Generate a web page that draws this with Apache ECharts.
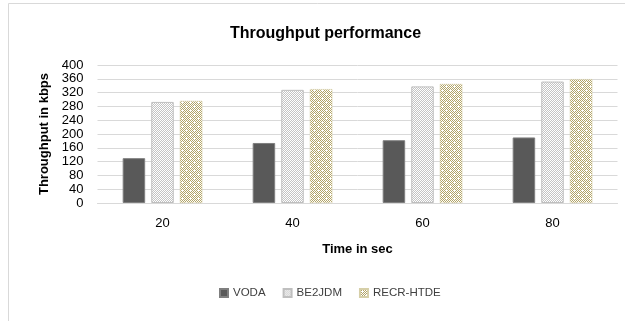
<!DOCTYPE html>
<html><head><meta charset="utf-8">
<script src="https://cdn.jsdelivr.net/npm/echarts@6/dist/echarts.min.js"></script>
<style>html,body{margin:0;padding:0;background:#fff}#c{width:625px;height:321px}</style>
</head><body><div id="c"></div>
<script>
var categories = ['20', '40', '60', '80'];
var seriesNames = ['VODA', 'BE2JDM', 'RECR-HTDE'];
var voda = [130, 174, 182, 190];
var be2jdm = [293, 328, 338, 352];
var recr = [296, 330, 345, 359];
var yTicks = [0, 40, 80, 120, 160, 200, 240, 280, 320, 360, 400];

function makePattern(bg, fg, size, cells) {
  var c = document.createElement('canvas');
  c.width = size; c.height = size;
  var g = c.getContext('2d');
  g.fillStyle = bg; g.fillRect(0, 0, size, size);
  g.fillStyle = fg;
  cells.forEach(function (p) { g.fillRect(p[0], p[1], 1, 1); });
  return c;
}
var grayPat = makePattern('#c4c4c4', '#ffffff', 2, [[0, 0], [1, 1]]);
var olivePat = (function () {
  var c = document.createElement('canvas');
  c.width = 8; c.height = 8;
  var g = c.getContext('2d');
  g.fillStyle = '#ffffff'; g.fillRect(0, 0, 8, 8);
  g.fillStyle = '#b2a468';
  for (var x = 0; x < 8; x++) for (var y = 0; y < 8; y++) if ((x + y) % 2 === 0) g.fillRect(x, y, 1, 1);
  g.fillStyle = '#ffffff';
  g.fillRect(2, 2, 1, 1); g.fillRect(6, 6, 1, 1);
  return c;
})();

var chart = echarts.init(document.getElementById('c'), null, {renderer: 'canvas'});
var FONT = '"Liberation Sans", Arial, sans-serif';
chart.setOption({
  animation: false,
  backgroundColor: '#fff',
  graphic: [{
    type: 'rect', shape: {x: 8.5, y: 3.5, width: 700, height: 400},
    style: {fill: 'none', stroke: '#d9d9d9', lineWidth: 1}, silent: true
  }],
  title: {
    text: 'Throughput performance', left: 225, top: 21,
    textStyle: {fontFamily: FONT, fontSize: 16, fontWeight: 'bold', color: '#000'}
  },
  legend: {
    data: seriesNames, bottom: 17, left: 214, itemWidth: 8, itemHeight: 8, itemGap: 17,
    icon: 'rect',
    textStyle: {fontFamily: FONT, fontSize: 11.5, color: '#404040'}
  },
  grid: {left: 97.5, right: 7.5, top: 65, bottom: 118},
  xAxis: {
    type: 'category', data: categories,
    name: 'Time in sec', nameLocation: 'middle', nameGap: 40,
    nameTextStyle: {fontFamily: FONT, fontSize: 13, fontWeight: 'bold', color: '#000'},
    axisLine: {lineStyle: {color: '#d9d9d9'}}, axisTick: {show: false},
    axisLabel: {fontFamily: FONT, fontSize: 13, color: '#000', margin: 14}
  },
  yAxis: {
    type: 'value', min: 0, max: 400, interval: 40,
    name: 'Throughput in kbps', nameLocation: 'middle', nameGap: 46, nameRotate: 90,
    nameTextStyle: {fontFamily: FONT, fontSize: 13, fontWeight: 'bold', color: '#000'},
    axisLine: {show: false}, axisTick: {show: false},
    splitLine: {lineStyle: {color: '#d9d9d9'}},
    axisLabel: {fontFamily: FONT, fontSize: 13, color: '#000', margin: 14,
      formatter: function (v) { return yTicks.indexOf(v) >= 0 ? String(v) : ''; }}
  },
  series: [
    {name: seriesNames[0], type: 'bar', data: voda, barWidth: 22.5, barGap: '27%',
     itemStyle: {color: '#595959', borderColor: '#7f7f7f', borderWidth: 1}},
    {name: seriesNames[1], type: 'bar', data: be2jdm, barWidth: 22.5, barGap: '27%',
     itemStyle: {color: {image: grayPat, repeat: 'repeat'}, borderColor: '#bfbfbf', borderWidth: 1}},
    {name: seriesNames[2], type: 'bar', data: recr, barWidth: 22.5, barGap: '27%',
     itemStyle: {color: {image: olivePat, repeat: 'repeat'}, borderColor: '#d6cfa8', borderWidth: 0.5}}
  ]
});
</script></body></html>
